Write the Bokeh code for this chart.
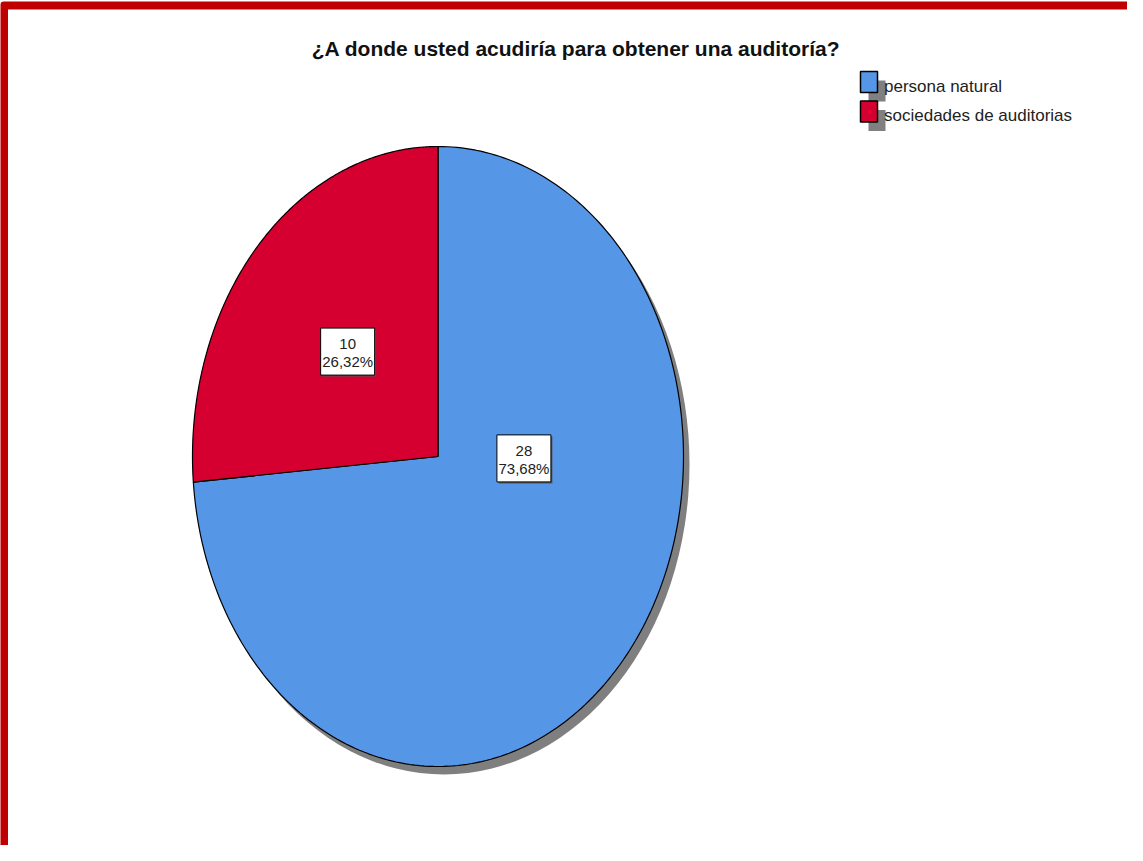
import numpy as np
from bokeh.plotting import figure
from bokeh.models import Range1d
from bokeh.core.properties import value
from bokeh.embed import file_html
from bokeh.resources import INLINE

# ---- data ----
title = "¿A donde usted acudiría para obtener una auditoría?"
categories = ["persona natural", "sociedades de auditorias"]
counts = [28, 10]
colors = ["#5596E6", "#D5002F"]
# label anchor inside each slice (fraction of radius, angle in degrees from +x, CCW)
label_r = [0.35, 0.5]
label_ang = [-1.0, 137.4]

W, H = 1127, 845
p = figure(width=W, height=H, x_range=Range1d(0, W), y_range=Range1d(H, 0),
           output_backend="svg", toolbar_location=None,
           x_axis_location=None, y_axis_location=None, min_border=0)
p.xgrid.visible = False
p.ygrid.visible = False
p.outline_line_color = None
p.background_fill_color = "white"
p.border_fill_color = "white"

# red frame
p.quad(left=[3.5], right=[W + 50], top=[5], bottom=[H + 50], fill_color=None,
       line_color="#C00000", line_width=8, line_join="round")

# title
p.text(x=[575.5], y=[48], text=[title], text_align="center", text_baseline="middle",
       text_font=value("Liberation Sans"), text_font_style="bold",
       text_font_size="21px", text_color="#111111")

# pie (elliptical)
cx, cy, rx, ry = 437.5, 456.0, 245.5, 310.0
total = float(sum(counts))
fracs = [c / total for c in counts]

# shadow
p.ellipse(x=[cx + 6], y=[cy + 8], width=[2 * rx], height=[2 * ry],
          fill_color="#7F7F7F", line_color=None)

xs, ys = [], []
start = 90.0
for f in fracs:
    end = start - f * 360.0
    t = np.radians(np.linspace(start, end, 240))
    px = np.concatenate([[cx], cx + rx * np.cos(t), [cx]])
    py = np.concatenate([[cy], cy - ry * np.sin(t), [cy]])
    xs.append(list(px))
    ys.append(list(py))
    start = end
p.patches(xs, ys, fill_color=colors, line_color="black", line_width=1.2)

# labels
for c, f, r, a in zip(counts, fracs, label_r, label_ang):
    lx = cx + r * rx * np.cos(np.radians(a))
    ly = cy - r * ry * np.sin(np.radians(a))
    p.rect(x=[lx + 1.5], y=[ly + 1.5], width=[54], height=[47], fill_color="#555555",
           line_color=None)
    p.rect(x=[lx], y=[ly], width=[54], height=[47], fill_color="white",
           line_color="black", line_width=1)
    pct = f"{f * 100:.2f}".replace(".", ",") + "%"
    p.text(x=[lx], y=[ly + 1], text=[f"{c}\n{pct}"], text_align="center",
           text_baseline="middle", text_font=value("Liberation Sans"),
           text_font_size="15px", text_color="#222222", text_line_height=1.05)

# legend
lg_x, lg_y0, lg_dy = 868.5, 81.5, 29.5
for i, (cat, col) in enumerate(zip(categories, colors)):
    yc = lg_y0 + i * lg_dy
    p.rect(x=[lg_x + 8], y=[yc + 9], width=[17], height=[21], fill_color="#808080",
           line_color=None)
    p.rect(x=[lg_x], y=[yc], width=[17], height=[21], fill_color=col,
           line_color="black", line_width=1.5)
    p.text(x=[lg_x + 15], y=[yc + 4], text=[cat], text_align="left",
           text_baseline="middle", text_font=value("Liberation Sans"),
           text_font_size="17px", text_color="#222222")

open("out.html", "w").write(file_html(p, INLINE))
